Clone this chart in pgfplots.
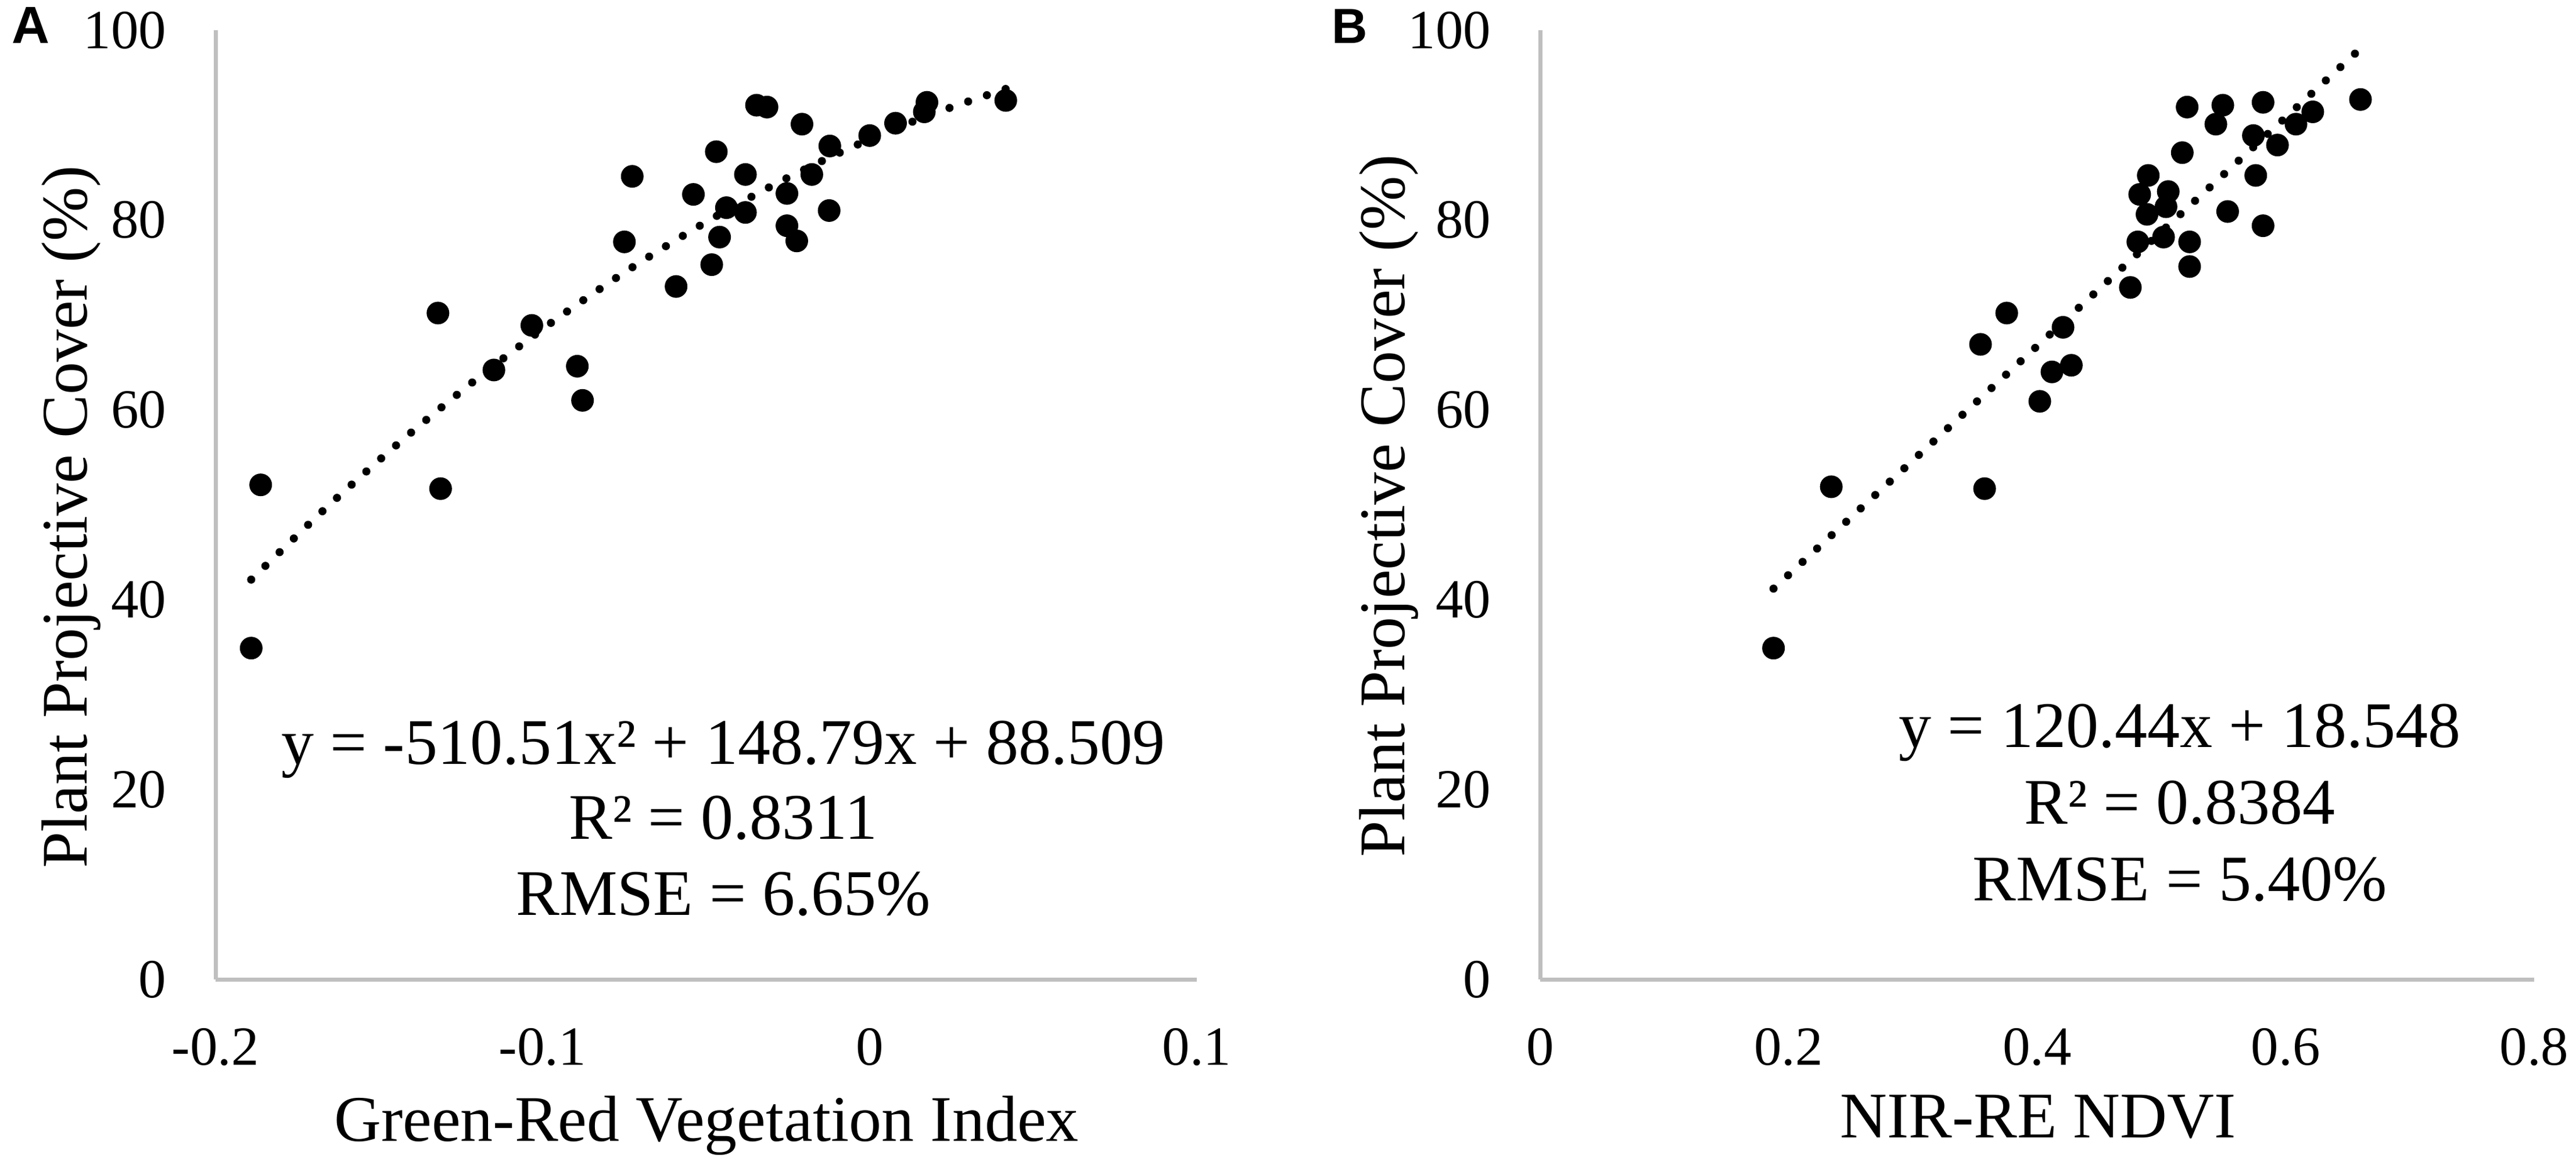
\documentclass[border=0pt]{standalone}
\usepackage{fontspec}
\setmainfont{Liberation Serif}
\newfontfamily\panelfont{Liberation Sans}
\usepackage{pgfplots}
\pgfplotsset{compat=1.18}
\definecolor{axisgray}{HTML}{BFBFBF}
\pgfplotsset{
  myaxis/.style={
    scale only axis,
    anchor=south west,
    axis x line=bottom, axis y line=left,
    axis line style={draw=axisgray, line width=0.7pt, -},
    major tick length=0pt,
    ymin=0, ymax=100, ytick={0,20,40,60,80,100},
    tick label style={font=\fontsize{9.5}{10}\selectfont},
    /pgf/number format/assume math mode=true,
    yticklabel style={inner sep=0pt, xshift=-8.3pt},
    xticklabel style={inner sep=0pt, yshift=-8.2pt},
    clip=false,
  },
  pts/.style={only marks, mark=*, mark size=1.75pt, black, mark options={fill=black, draw=black}},
  trend/.style={no marks, smooth, black, line width=1.4pt, line cap=round, dash pattern=on 0pt off 3.4pt},
}
\begin{document}
\begin{tikzpicture}
\path[use as bounding box] (0,0) rectangle (443.4pt,200.8pt);
% Panel A
\begin{axis}[myaxis, at={(37.1pt,32.2pt)}, width=168.9pt, height=163.4pt,
  xmin=-0.2, xmax=0.1, xtick={-0.2,-0.1,0,0.1}]
\addplot[pts] coordinates {
(-0.1891,34.9) (-0.1862,52.1) (-0.1320,70.2) (-0.1312,51.7) (-0.1149,64.2)
(-0.1033,68.9) (-0.0894,64.6) (-0.0878,61.0) (-0.0750,77.7) (-0.0726,84.6)
(-0.0346,92.1) (-0.0314,91.9) (-0.0207,90.1) (-0.0469,87.2) (-0.0380,84.8)
(-0.0539,82.7) (-0.0438,81.3) (-0.0380,80.8) (-0.0253,82.8) (-0.0177,84.8)
(-0.0122,87.8) (-0.0124,81.0) (-0.0253,79.4) (-0.0223,77.8) (-0.0459,78.2)
(-0.0483,75.3) (-0.0592,73.0) (0.0000,88.9) (0.0079,90.2) (0.0175,92.4)
(0.0167,91.4) (0.0416,92.6)
};
\addplot[trend] coordinates {
(-0.1891,42.117) (-0.166,49.742) (-0.143,56.793) (-0.120,63.303) (-0.097,69.273)
(-0.074,74.703) (-0.051,79.593) (-0.028,83.943) (-0.005,87.752) (0.018,91.022)
(0.0416,93.816)
};
\end{axis}
% Panel B
\begin{axis}[myaxis, at={(265.1pt,32.2pt)}, width=171.1pt, height=163.4pt,
  xmin=0, xmax=0.8, xtick={0,0.2,0.4,0.6,0.8}]
\addplot[pts] coordinates {
(0.1878,34.9) (0.2343,51.9) (0.3577,51.7) (0.3544,66.9) (0.3755,70.2)
(0.4021,60.9) (0.4119,64.0) (0.4208,68.7) (0.4275,64.7) (0.4750,72.9)
(0.4810,77.7) (0.4825,82.7) (0.4884,80.6) (0.4894,84.7) (0.5017,78.2)
(0.5037,81.4) (0.5055,83.0) (0.5168,87.1) (0.5207,91.9) (0.5227,77.7)
(0.5227,75.1) (0.5438,90.1) (0.5494,92.1) (0.5533,80.9) (0.5740,88.9)
(0.5759,84.7) (0.5818,92.4) (0.5818,79.4) (0.5934,87.9) (0.6083,90.1)
(0.6218,91.4) (0.6602,92.7)
};
\addplot[trend] coordinates {(0.1878,41.167) (0.6602,98.063)};
\end{axis}
% Panel letters
\node[font=\fontsize{9}{10}\selectfont\panelfont\bfseries, anchor=base west, inner sep=0pt] at (1.8pt,193.3pt) {A};
\node[font=\fontsize{8.5}{10}\selectfont\panelfont\bfseries, anchor=base west, inner sep=0pt] at (229.0pt,193.3pt) {B};
% Axis titles
\node[rotate=90, anchor=base, inner sep=0pt, font=\fontsize{11.2}{13}\selectfont] at (14.9pt,111.8pt) {Plant Projective Cover (\%)};
\node[rotate=90, anchor=base, inner sep=0pt, font=\fontsize{11.2}{13}\selectfont] at (241.7pt,113.7pt) {Plant Projective Cover (\%)};
\node[anchor=base, inner sep=0pt, font=\fontsize{11.2}{13}\selectfont] at (121.6pt,4.4pt) {Green-Red Vegetation Index};
\node[anchor=base, inner sep=0pt, font=\fontsize{11.2}{13}\selectfont] at (350.8pt,5.0pt) {NIR-RE NDVI};
% Equations
\node[anchor=base, inner sep=0pt, font=\fontsize{11.2}{13}\selectfont] at (124.5pt,69.3pt) {y = -510.51x² + 148.79x + 88.509};
\node[anchor=base, inner sep=0pt, font=\fontsize{11.2}{13}\selectfont] at (124.5pt,56.4pt) {R² = 0.8311};
\node[anchor=base, inner sep=0pt, font=\fontsize{11.2}{13}\selectfont] at (124.5pt,43.3pt) {RMSE = 6.65\%};
\node[anchor=base, inner sep=0pt, font=\fontsize{11.2}{13}\selectfont] at (375.2pt,72.2pt) {y = 120.44x + 18.548};
\node[anchor=base, inner sep=0pt, font=\fontsize{11.2}{13}\selectfont] at (375.2pt,59.0pt) {R² = 0.8384};
\node[anchor=base, inner sep=0pt, font=\fontsize{11.2}{13}\selectfont] at (375.2pt,45.8pt) {RMSE = 5.40\%};
\end{tikzpicture}
\end{document}
